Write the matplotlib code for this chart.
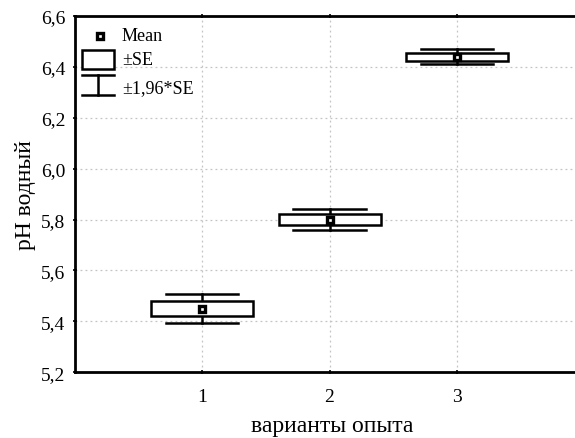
import matplotlib.pyplot as plt
import numpy as np

# data
variants = [1, 2, 3]
means = [5.45, 5.80, 6.44]
se = [0.029, 0.021, 0.015]
yticks = [5.2, 5.4, 5.6, 5.8, 6.0, 6.2, 6.4, 6.6]

plt.rcParams['font.family'] = ['Liberation Serif', 'DejaVu Serif']

fig = plt.figure(figsize=(5.75, 4.39), dpi=100)
ax = fig.add_axes([0.1296, 0.1497, 0.887, 0.8116])

box_w = 0.8
cap_w = 0.57
lw = 1.8

for x, m, s in zip(variants, means, se):
    # whisker +-1.96*SE
    lo, hi = m - 1.96 * s, m + 1.96 * s
    ax.plot([x - cap_w / 2, x + cap_w / 2], [hi, hi], color='black', lw=lw)
    ax.plot([x - cap_w / 2, x + cap_w / 2], [lo, lo], color='black', lw=lw)
    ax.plot([x, x], [lo, m - s], color='black', lw=lw)
    ax.plot([x, x], [m + s, hi], color='black', lw=lw)
    # box +-SE
    ax.add_patch(plt.Rectangle((x - box_w / 2, m - s), box_w, 2 * s,
                               facecolor='white', edgecolor='black', lw=lw, zorder=3))
    # mean
    ax.plot(x, m, 's', ms=5, mfc='white', mec='black', mew=2.4, zorder=4)

ax.set_xlim(0, 4)
ax.set_ylim(5.2, 6.6)
ax.set_xticks(variants)
ax.set_xticklabels([str(v) for v in variants])
ax.set_yticks(yticks)
ax.set_yticklabels([f'{v:.1f}'.replace('.', ',') for v in yticks])

ax.grid(True, color='#c4c4c4', linestyle=(0, (1.5, 2.5)), lw=0.9)
ax.set_axisbelow(True)
for sp in ax.spines.values():
    sp.set_linewidth(2)
ax.tick_params(direction='inout', length=3, width=1.2, top=True, labelsize=14)
ax.tick_params(axis='x', pad=10)
ax.tick_params(axis='y', pad=5)

ax.set_xlabel('варианты опыта', fontsize=17, va='center')
ax.xaxis.set_label_coords(0.505, -0.15)
ax.set_ylabel('pH водный', fontsize=17, va='center')
ax.yaxis.set_label_coords(-0.097, 0.5)

# legend drawn by hand
tr = ax.transAxes
ax.plot(0.05, 0.9447, 's', ms=5, mfc='white', mec='black', mew=2.4, transform=tr, clip_on=False)
ax.add_patch(plt.Rectangle((0.0141, 0.8514), 0.064, 0.0532, transform=tr,
                           facecolor='white', edgecolor='black', lw=lw, zorder=3))
ax.plot([0.0141, 0.078], [0.8344, 0.8344], color='black', lw=lw, transform=tr)
ax.plot([0.0141, 0.078], [0.7783, 0.7783], color='black', lw=lw, transform=tr)
ax.plot([0.046, 0.046], [0.7783, 0.8344], color='black', lw=lw, transform=tr)
ax.text(0.0931, 0.9447, 'Mean', transform=tr, va='center', fontsize=13)
ax.text(0.0931, 0.8765, '±SE', transform=tr, va='center', fontsize=13)
ax.text(0.0931, 0.80, '±1,96*SE', transform=tr, va='center', fontsize=13)

fig.savefig('out.png', dpi=100)
